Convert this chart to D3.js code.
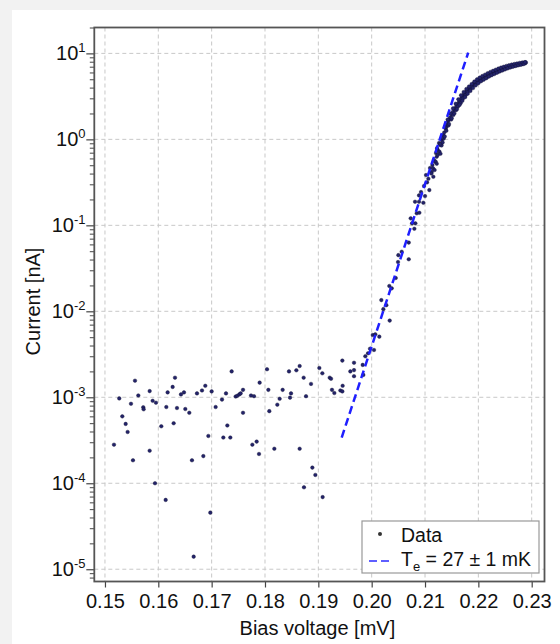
<!DOCTYPE html>
<html>
<head>
<meta charset="utf-8">
<script src="https://cdn.jsdelivr.net/npm/d3@7"></script>
<style>
  html, body { margin: 0; padding: 0; background: #f2f2f2; }
  svg { display: block; font-family: "Liberation Sans", Arial, sans-serif; }
</style>
</head>
<body>
<svg id="chart" width="560" height="644"></svg>
<script>
// flat part of the IV curve (noise floor)
const noiseV = [0.15169, 0.15268, 0.15325, 0.15388, 0.15425, 0.15488, 0.15525, 0.15563, 0.15625, 0.15718,
  0.15725, 0.15838, 0.15838, 0.15894, 0.15938, 0.15956, 0.16056, 0.16138, 0.16150, 0.16175,
  0.16269, 0.16288, 0.16313, 0.16350, 0.16425, 0.16481, 0.16506, 0.16581, 0.16631, 0.16663,
  0.16725, 0.16819, 0.16844, 0.16881, 0.16938, 0.16975, 0.17000, 0.17075, 0.17194, 0.17219,
  0.17269, 0.17294, 0.17350, 0.17375, 0.17450, 0.17481, 0.17519, 0.17544, 0.17588, 0.17588,
  0.17738, 0.17763, 0.17794, 0.17844, 0.17888, 0.17900, 0.18038, 0.18063, 0.18081, 0.18175,
  0.18231, 0.18275, 0.18331, 0.18450, 0.18469, 0.18488, 0.18588, 0.18650, 0.18650, 0.18725,
  0.18731, 0.18769, 0.18863, 0.18888, 0.18944, 0.19019, 0.19075, 0.19081, 0.19213, 0.19238,
  0.19256, 0.19300, 0.19413, 0.19450, 0.19450, 0.19456, 0.19600, 0.19669, 0.19669, 0.19669];
const noiseI = [2.81e-4, 9.7e-4, 6.0e-4, 4.9e-4, 3.95e-4, 8.4e-4, 1.85e-4, 1.56e-3, 1.05e-3, 7.65e-4,
  7.25e-4, 1.18e-3, 2.39e-4, 9.1e-4, 1.0e-4, 8.65e-4, 4.6e-4, 6.4e-5, 7.7e-4, 1.14e-3,
  1.32e-3, 4.99e-4, 1.69e-3, 7.5e-4, 1.08e-3, 1.14e-3, 7.3e-4, 6.6e-4, 1.85e-4, 1.40e-5,
  1.11e-3, 1.2e-3, 2.07e-4, 1.36e-3, 3.55e-4, 4.55e-5, 1.17e-3, 7.7e-4, 9.4e-4, 3.4e-4,
  1.11e-3, 4.7e-4, 3.4e-4, 2.0e-3, 1.02e-3, 1.04e-3, 1.08e-3, 1.11e-3, 1.22e-3, 6.6e-4,
  1.05e-3, 2.81e-4, 1.03e-3, 3.05e-4, 2.19e-4, 1.48e-3, 2.12e-3, 1.22e-3, 6.9e-4, 2.52e-4,
  8.2e-4, 9.6e-4, 1.22e-3, 2.0e-3, 9.9e-4, 1.11e-3, 2.06e-3, 2.31e-3, 2.52e-4, 1.69e-3,
  8.97e-5, 1.03e-3, 1.43e-3, 1.52e-4, 1.25e-4, 2.19e-3, 1.9e-3, 6.9e-5, 1.69e-3, 1.64e-3,
  1.22e-3, 1.12e-3, 1.2e-3, 2.67e-3, 1.17e-3, 1.36e-3, 2.0e-3, 2.52e-3, 2.07e-3, 1.76e-3];

// exponential rise
const riseV = [0.19832, 0.19843, 0.19881, 0.19932, 0.19969, 0.20020, 0.20068, 0.20044, 0.20143, 0.20181,
  0.20219, 0.20275, 0.20338, 0.20331, 0.20376, 0.20451, 0.20494, 0.20500, 0.20563, 0.20695,
  0.20695, 0.20732, 0.20757, 0.20800, 0.20819, 0.20845, 0.20888, 0.20813, 0.20888, 0.20969,
  0.20894, 0.21081, 0.21038, 0.21063, 0.21156, 0.21126, 0.21138, 0.21188, 0.21219, 0.21238,
  0.21282, 0.21313, 0.21344, 0.21226, 0.21263, 0.21206, 0.21169, 0.21094, 0.21019, 0.20982,
  0.20925, 0.21000, 0.2112, 0.2115, 0.2118, 0.2120, 0.2122, 0.2124, 0.2127, 0.2129,
  0.2131, 0.2133, 0.2135, 0.2132, 0.2128];
const riseI = [2.38e-3, 1.82e-3, 3.0e-3, 3.25e-3, 3.67e-3, 5.3e-3, 5.4e-3, 3.55e-3, 5.07e-3, 1.35e-2,
  1.06e-2, 1.18e-2, 7.8e-3, 1.97e-2, 1.85e-2, 2.44e-2, 3.74e-2, 4.5e-2, 4.93e-2, 4.03e-2,
  6.3e-2, 0.1205, 0.1054, 0.0912, 0.1054, 0.138, 0.188, 0.188, 0.223, 0.183,
  0.140, 0.257, 0.316, 0.348, 0.367, 0.420, 0.502, 0.549, 0.628, 0.752,
  0.859, 0.98, 1.12, 0.79, 0.906, 0.692, 0.575, 0.464, 0.385, 0.287,
  0.244, 0.219, 0.40, 0.46, 0.44, 0.55, 0.52, 0.66, 0.72, 0.68,
  0.85, 0.92, 1.02, 1.05, 0.88];

// saturating part, centre of the band
const satV = [0.2136, 0.2137, 0.2139, 0.2140, 0.2141, 0.2143, 0.2144, 0.2146, 0.2147, 0.2149,
  0.2150, 0.2152, 0.2153, 0.2155, 0.2156, 0.2158, 0.2159, 0.2161, 0.2162, 0.2164,
  0.2165, 0.2167, 0.2168, 0.2170, 0.2171, 0.2173, 0.2174, 0.2176, 0.2177, 0.2179,
  0.2180, 0.2182, 0.2183, 0.2185, 0.2186, 0.2188, 0.2189, 0.2191, 0.2192, 0.2194,
  0.2195, 0.2197, 0.2198, 0.2200, 0.2202, 0.2203, 0.2205, 0.2207, 0.2208, 0.2210,
  0.2212, 0.2213, 0.2215, 0.2217, 0.2218, 0.2220, 0.2222, 0.2223, 0.2225, 0.2227,
  0.2228, 0.2230, 0.2232, 0.2233, 0.2235, 0.2237, 0.2238, 0.2240, 0.2242, 0.2243,
  0.2245, 0.2247, 0.2248, 0.2250, 0.2252, 0.2253, 0.2255, 0.2257, 0.2258, 0.2260,
  0.2262, 0.2263, 0.2265, 0.2267, 0.2268, 0.2270, 0.2272, 0.2273, 0.2275, 0.2277,
  0.2278, 0.2280, 0.2282, 0.2283, 0.2285, 0.2287, 0.2288, 0.2289];
const satI = [1.20, 1.08, 1.32, 1.40, 1.50, 1.62, 1.45, 1.72, 1.80, 1.70,
  1.95, 2.08, 1.92, 2.22, 2.30, 2.18, 2.45, 2.58, 2.42, 2.72,
  2.80, 2.65, 3.00, 3.15, 2.98, 3.30, 3.40, 3.25, 3.55, 3.72,
  3.58, 3.86, 3.95, 3.82, 4.10, 4.25, 4.12, 4.38, 4.48, 4.35,
  4.62, 4.72, 4.58, 4.85, 4.95, 4.80, 5.05, 5.15, 5.00, 5.28,
  5.35, 5.20, 5.48, 5.55, 5.40, 5.68, 5.75, 5.60, 5.88, 5.95,
  5.82, 6.08, 6.15, 6.00, 6.28, 6.32, 6.18, 6.45, 6.50, 6.38,
  6.62, 6.70, 6.55, 6.85, 6.88, 6.75, 6.98, 7.02, 6.90, 7.12,
  7.15, 7.05, 7.25, 7.30, 7.18, 7.38, 7.42, 7.30, 7.50, 7.52,
  7.42, 7.60, 7.65, 7.55, 7.72, 7.78, 7.68, 7.85];

// saturating part, upper and lower edges of the band
const edgeV = [0.21375, 0.21400, 0.21425, 0.21450, 0.21475, 0.21500, 0.21525, 0.21550, 0.21575, 0.21600,
  0.21625, 0.21650, 0.21675, 0.21700, 0.21725, 0.21750, 0.21775, 0.21800, 0.21825, 0.21850,
  0.21875, 0.21900, 0.21925, 0.21950, 0.21975, 0.22000, 0.22025, 0.22050, 0.22075, 0.22100,
  0.22125, 0.22150, 0.22175, 0.22200, 0.22225, 0.22250, 0.22275, 0.22300, 0.22325, 0.22350,
  0.22375, 0.22400, 0.22425, 0.22450, 0.22475, 0.22500, 0.22525, 0.22550, 0.22575, 0.22600,
  0.22625, 0.22650, 0.22675, 0.22700, 0.22725, 0.22750, 0.22775, 0.22800, 0.22825, 0.22850,
  0.22875];
const edgeI = [1.38, 1.26, 1.70, 1.51, 2.00, 1.76, 2.29, 2.00, 2.60, 2.25,
  2.92, 2.52, 3.26, 2.81, 3.55, 3.09, 3.85, 3.40, 4.12, 3.66,
  4.40, 3.95, 4.70, 4.25, 4.98, 4.50, 5.22, 4.75, 5.45, 4.95,
  5.65, 5.15, 5.88, 5.38, 6.08, 5.58, 6.26, 5.76, 6.45, 5.95,
  6.64, 6.16, 6.82, 6.33, 6.98, 6.52, 7.14, 6.70, 7.28, 6.86,
  7.40, 7.00, 7.52, 7.14, 7.64, 7.27, 7.74, 7.38, 7.84, 7.52,
  7.92];

// fitted thermal slope
const fitV = [0.19438, 0.2181];
const fitI = [3.4e-4, 10.2];

const xTicks = [0.15, 0.16, 0.17, 0.18, 0.19, 0.20, 0.21, 0.22, 0.23];
const yTicks = [1e-5, 1e-4, 1e-3, 1e-2, 1e-1, 1, 10];
const yExp = ['-5', '-4', '-3', '-2', '-1', '0', '1'];

const svg = d3.select('#chart');

svg.append('rect').attr('width', 560).attr('height', 644).attr('fill', '#f2f2f2');
svg.append('rect').attr('x', 12).attr('y', 10).attr('width', 548).attr('height', 634).attr('fill', '#fff');

const pLeft = 94.3, pRight = 544.5, pTop = 27.5, pBottom = 581.5;

const x = d3.scaleLinear().domain([0.148, 0.2324]).range([pLeft, pRight]);
const y = d3.scaleLog().domain([7.2e-6, 20]).range([pBottom, pTop]);

// grid
const grid = svg.append('g').attr('stroke', '#c8c8c8').attr('stroke-dasharray', '4,3').attr('stroke-width', 1);
xTicks.forEach((t) => {
  grid.append('line').attr('x1', x(t)).attr('x2', x(t)).attr('y1', pTop).attr('y2', pBottom);
});
yTicks.forEach((t) => {
  grid.append('line').attr('x1', pLeft).attr('x2', pRight).attr('y1', y(t)).attr('y2', y(t));
});

// minor y ticks
let minors = [];
for (let e = -6; e <= 1; e++) {
  for (let m = 2; m <= 9; m++) {
    const v = m * Math.pow(10, e);
    if (v >= 7.2e-6 && v <= 20) minors.push(v);
  }
}
svg.append('g')
  .attr('transform', `translate(${pLeft},0)`)
  .call(d3.axisLeft(y).tickValues(minors).tickSize(4.5).tickFormat(() => ''))
  .call((g) => g.select('.domain').remove())
  .selectAll('line').attr('stroke', '#444').attr('stroke-width', 1);

// major y ticks
const yAxis = svg.append('g')
  .attr('transform', `translate(${pLeft},0)`)
  .call(d3.axisLeft(y).tickValues(yTicks).tickSize(8).tickFormat(() => ''));
yAxis.select('.domain').remove();
yAxis.selectAll('line').attr('stroke', '#444').attr('stroke-width', 1.2);

yTicks.forEach((t, i) => {
  const txt = svg.append('text')
    .attr('x', 85.5)
    .attr('y', y(t) + 6.5)
    .attr('text-anchor', 'end')
    .attr('font-size', 20)
    .attr('fill', '#111');
  txt.append('tspan').text('10');
  txt.append('tspan').attr('dy', -8).attr('font-size', 13).text(yExp[i]);
});

// x ticks
const xAxis = svg.append('g')
  .attr('transform', `translate(0,${pBottom})`)
  .call(d3.axisBottom(x).tickValues(xTicks).tickSize(6).tickFormat(d3.format('.2f')));
xAxis.select('.domain').remove();
xAxis.selectAll('line').attr('stroke', '#444').attr('stroke-width', 1.2);
xAxis.selectAll('text')
  .attr('font-size', 20)
  .attr('font-family', '"Liberation Sans", Arial, sans-serif')
  .attr('fill', '#111')
  .attr('dy', null)
  .attr('y', 26.5);

// data
const pts = [];
noiseV.forEach((v, i) => pts.push([v, noiseI[i]]));
riseV.forEach((v, i) => pts.push([v, riseI[i]]));
satV.forEach((v, i) => pts.push([v, satI[i]]));
edgeV.forEach((v, i) => pts.push([v, edgeI[i]]));

svg.append('g')
  .selectAll('circle')
  .data(pts)
  .join('circle')
  .attr('cx', (d) => x(d[0]))
  .attr('cy', (d) => y(d[1]))
  .attr('r', 1.8)
  .attr('fill', '#23236a')
  .attr('stroke', '#111133')
  .attr('stroke-width', 0.4);

// fit line
svg.append('path')
  .datum(fitV.map((v, i) => [v, fitI[i]]))
  .attr('d', d3.line().x((d) => x(d[0])).y((d) => y(d[1])))
  .attr('fill', 'none')
  .attr('stroke', '#1f1fff')
  .attr('stroke-width', 2.5)
  .attr('stroke-dasharray', '8,4.5');

// frame
svg.append('rect')
  .attr('x', pLeft).attr('y', pTop)
  .attr('width', pRight - pLeft).attr('height', pBottom - pTop)
  .attr('fill', 'none')
  .attr('stroke', '#555')
  .attr('stroke-width', 1.8);

// axis titles
svg.append('text')
  .attr('x', (pLeft + pRight) / 2 - 2)
  .attr('y', 635)
  .attr('text-anchor', 'middle')
  .attr('font-size', 20)
  .attr('fill', '#111')
  .text('Bias voltage [mV]');

svg.append('text')
  .attr('transform', `translate(40,${(pTop + pBottom) / 2 - 3}) rotate(-90)`)
  .attr('text-anchor', 'middle')
  .attr('font-size', 20)
  .attr('fill', '#111')
  .text('Current [nA]');

// legend
const lg = svg.append('g');
lg.append('rect')
  .attr('x', 362).attr('y', 521).attr('width', 177).attr('height', 52)
  .attr('fill', '#fff').attr('stroke', '#999').attr('stroke-width', 1.2);
lg.append('circle').attr('cx', 380).attr('cy', 534).attr('r', 2).attr('fill', '#333');
lg.append('text').attr('x', 401).attr('y', 541.5).attr('font-size', 19.5).attr('fill', '#111').text('Data');
lg.append('line')
  .attr('x1', 369).attr('x2', 391).attr('y1', 561).attr('y2', 561)
  .attr('stroke', '#2a2aff').attr('stroke-width', 1.5).attr('stroke-dasharray', '8,4');
const lt = lg.append('text').attr('x', 401).attr('y', 566).attr('font-size', 19.5).attr('fill', '#111');
lt.append('tspan').text('T');
lt.append('tspan').attr('dy', 5).attr('font-size', 13).text('e');
lt.append('tspan').attr('dy', -5).text(' = 27 \u00b1 1 mK');
</script>
</body>
</html>
